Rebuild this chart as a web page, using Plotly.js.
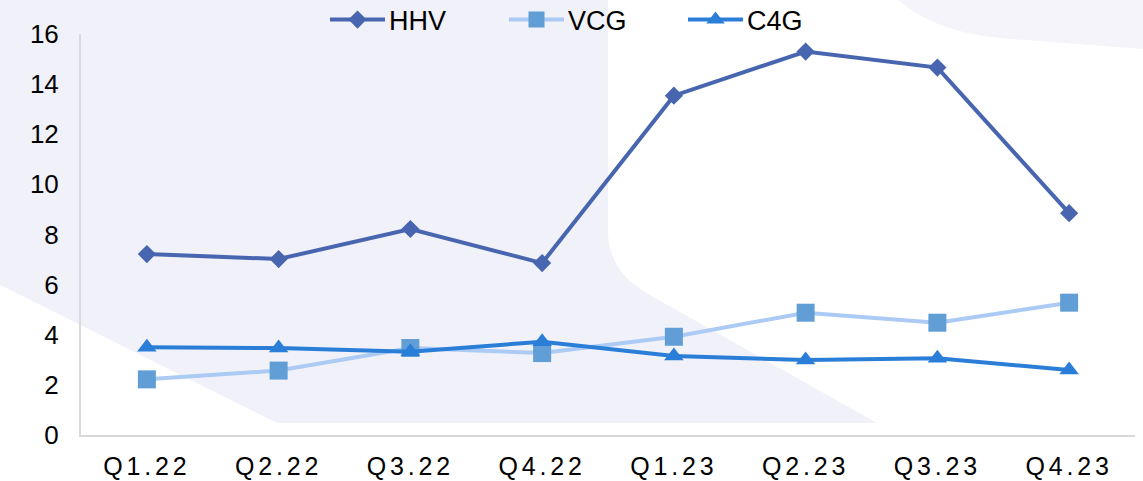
<!DOCTYPE html>
<html>
<head>
<meta charset="utf-8">
<script src="https://cdn.plot.ly/plotly-3.0.1.min.js"></script>
<style>
html,body{margin:0;padding:0;background:#fff;}
#chart{width:1143px;height:481px;}
.xtick text{letter-spacing:3.8px;}
.legend .legendtext{transform:translate(24px,0px);}
.legend .legendlines path{transform:translate(-4.17px,0px) scaleX(1.8333);}
.legend .legendpoints path{transform:translate(32.5px,0px);}
</style>
</head>
<body>
<div id="chart"></div>
<script>
const categories = ["Q1.22","Q2.22","Q3.22","Q4.22","Q1.23","Q2.23","Q3.23","Q4.23"];
const hhv = [7.22, 7.02, 8.22, 6.86, 13.54, 15.3, 14.66, 8.85];
const vcg = [2.22, 2.57, 3.47, 3.27, 3.92, 4.88, 4.48, 5.28];
const c4g = [3.5, 3.47, 3.32, 3.72, 3.15, 2.99, 3.06, 2.59];
const yTicks = [0, 2, 4, 6, 8, 10, 12, 14, 16];

const W = 1143, H = 481;
const M = {l: 81, r: 8, t: 34, b: 46, autoexpand: false};
const PW = W - M.l - M.r, PH = H - M.t - M.b;
function px(x){ return ((x - M.l) / PW).toFixed(4); }
function py(y){ return ((H - M.b - y) / PH).toFixed(4); }
function P(x, y){ return px(x) + ',' + py(y); }

const bgShapes = [
  {type:'path', xref:'paper', yref:'paper', layer:'below', line:{width:0}, fillcolor:'#f1f1f9',
   path:'M' + P(0,0) + ' L' + P(608,0) + ' L' + P(608,235) + ' Q' + P(610,272) + ' ' + P(648,294) +
        ' L' + P(877,423) + ' L' + P(277,423) + ' L' + P(0,285) + ' Z'},
  {type:'path', xref:'paper', yref:'paper', layer:'below', line:{width:0}, fillcolor:'#f4f4fa',
   path:'M' + P(898,0) + ' Q' + P(935,32) + ' ' + P(1000,38) + ' L' + P(1143,49) + ' L' + P(1143,0) + ' Z'}
];

const font = "Arial, 'Liberation Sans', sans-serif";

const traces = [
  {x: categories, y: hhv, name: 'HHV', type: 'scatter', mode: 'lines+markers',
   line: {color: '#4866b0', width: 4},
   marker: {symbol: 'diamond', size: 14, color: '#4866b0'}},
  {x: categories, y: vcg, name: 'VCG', type: 'scatter', mode: 'lines+markers',
   line: {color: '#abcbf5', width: 4},
   marker: {symbol: 'square', size: 18, color: '#619ed6'}},
  {x: categories, y: c4g, name: 'C4G', type: 'scatter', mode: 'lines+markers',
   line: {color: '#2b7ed8', width: 4},
   marker: {symbol: 'triangle-up', size: 17, color: '#2b7ed8'}}
];

const layout = {
  width: W, height: H,
  margin: M,
  paper_bgcolor: '#ffffff',
  plot_bgcolor: 'rgba(0,0,0,0)',
  font: {family: font, color: '#000'},
  showlegend: true,
  legend: {orientation: 'h', x: (325 - M.l) / PW, xanchor: 'left', y: (H - M.b - 20) / PH, yanchor: 'middle',
           font: {size: 27, family: font, color: '#000'}, bgcolor: 'rgba(0,0,0,0)', entrywidth: 134, traceorder: 'normal'},
  xaxis: {type: 'category', range: [-0.5, 7.5], showgrid: false, zeroline: false, showline: true,
          linecolor: '#d9d9d9', linewidth: 2, ticks: '', ticklabelstandoff: 8,
          tickfont: {size: 25, family: font, color: '#000'}, fixedrange: true},
  yaxis: {range: [0, 16], tickvals: yTicks, ticktext: yTicks.map(String), showgrid: false, zeroline: false,
          showline: true, linecolor: '#d9d9d9', linewidth: 2, ticks: '', ticklabelstandoff: 15,
          tickfont: {size: 26, family: font, color: '#000'}, fixedrange: true},
  shapes: bgShapes
};

Plotly.newPlot('chart', traces, layout, {displayModeBar: false, staticPlot: true});
</script>
</body>
</html>
